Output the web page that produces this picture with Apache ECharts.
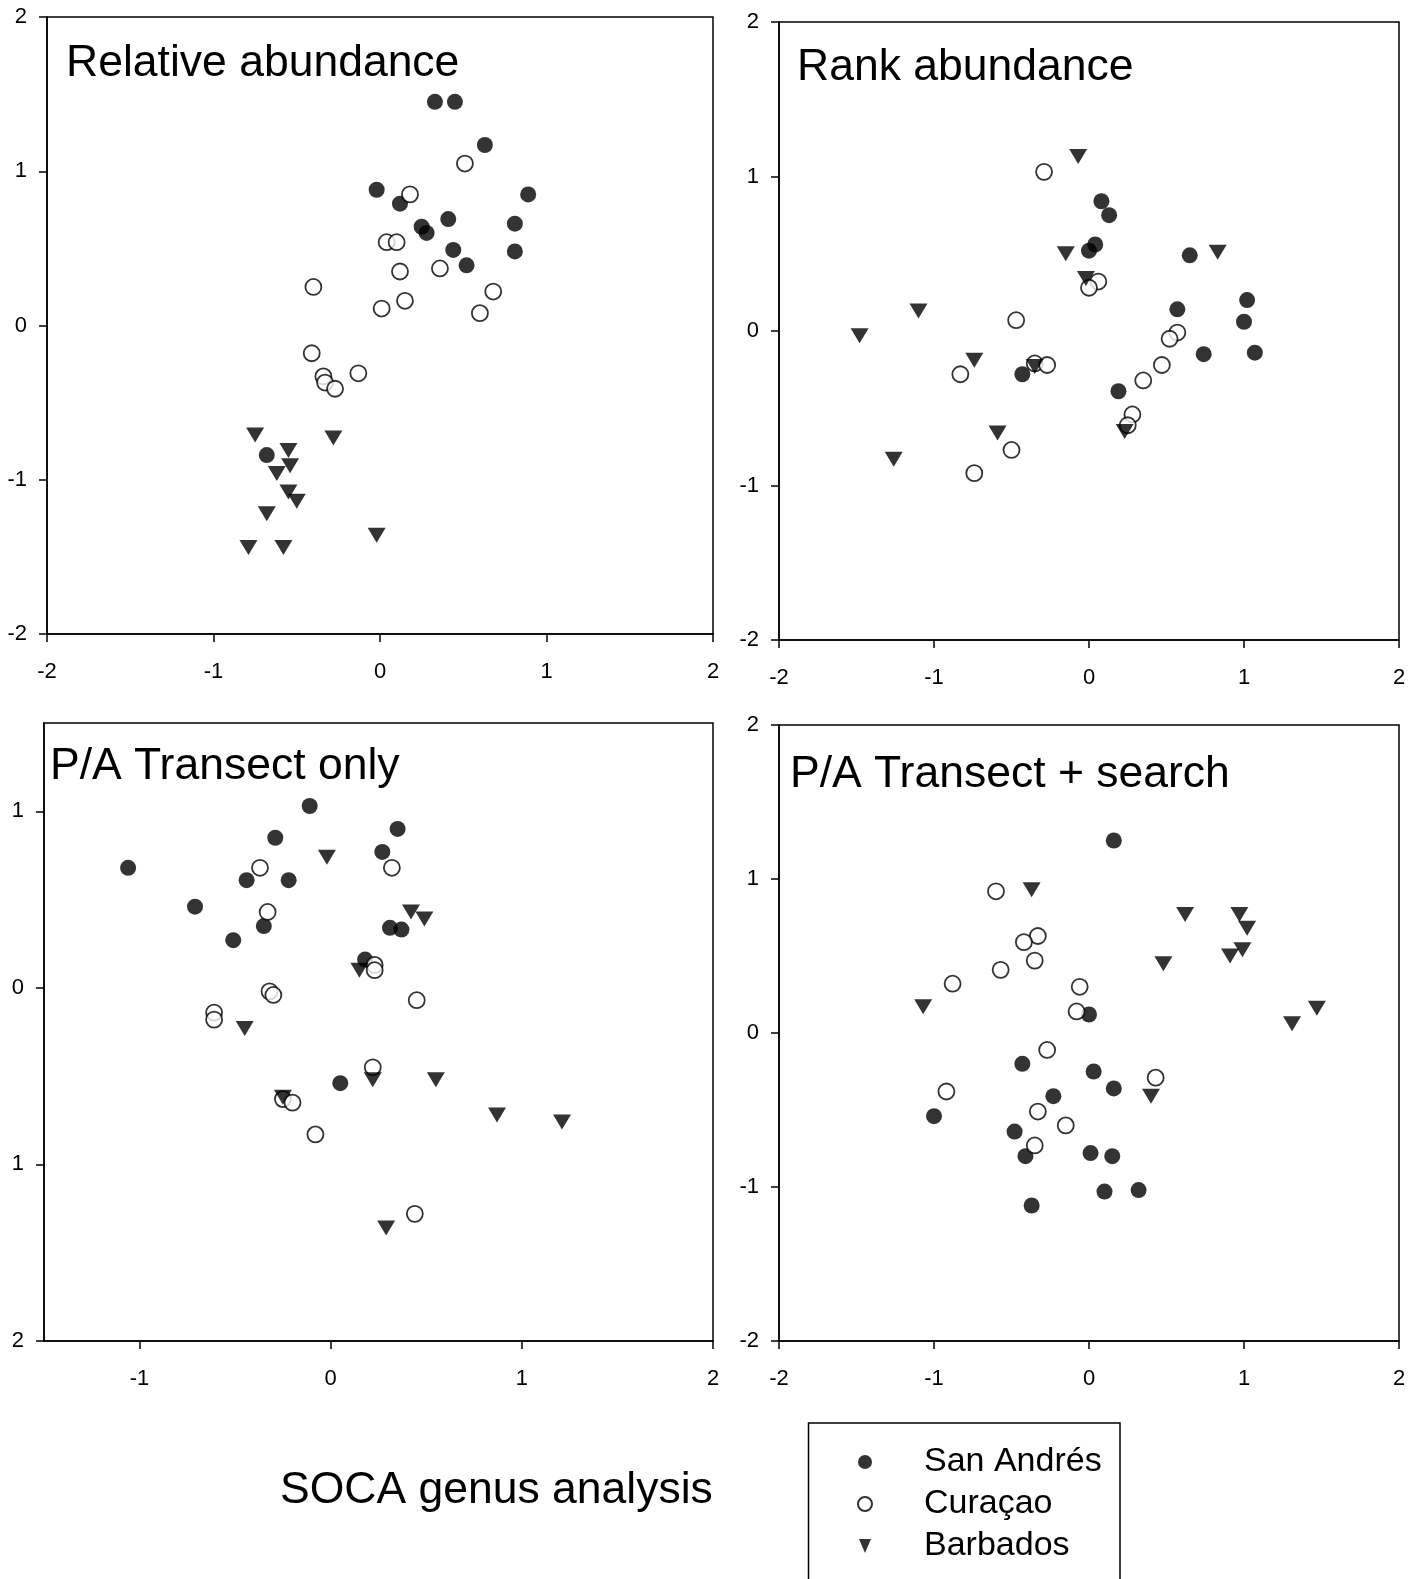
<!DOCTYPE html>
<html><head><meta charset="utf-8">
<script src="https://cdn.jsdelivr.net/npm/echarts@6/dist/echarts.min.js"></script>
<style>html,body{margin:0;padding:0;background:#fff}#c{width:1421px;height:1579px}</style>
</head><body><div id="c"></div>
<script>
// ---- data ----
const groupNames = ['San Andrés', 'Curaçao', 'Barbados'];
const panelTitles = ['Relative abundance', 'Rank abundance', 'P/A Transect only', 'P/A Transect + search'];
const chartTitle = 'SOCA genus analysis';

const relSanAndres = [[0.33,1.45],[0.45,1.45],[0.63,1.17],[-0.02,0.88],[0.12,0.79],[0.89,0.85],[0.25,0.64],[0.28,0.60],[0.41,0.69],[0.81,0.66],[0.44,0.49],[0.52,0.39],[0.81,0.48],[-0.68,-0.84]];
const relCuracao = [[0.51,1.05],[0.18,0.85],[0.04,0.54],[0.10,0.54],[0.12,0.35],[0.36,0.37],[0.15,0.16],[0.01,0.11],[0.68,0.22],[0.60,0.08],[-0.40,0.25],[-0.41,-0.18],[-0.34,-0.33],[-0.33,-0.37],[-0.27,-0.41],[-0.13,-0.31]];
const relBarbados = [[-0.75,-0.71],[-0.55,-0.81],[-0.54,-0.91],[-0.62,-0.96],[-0.28,-0.73],[-0.55,-1.08],[-0.50,-1.14],[-0.68,-1.22],[-0.79,-1.44],[-0.58,-1.44],[-0.02,-1.36]];

const rankSanAndres = [[0.08,0.84],[0.13,0.75],[0.04,0.56],[0.00,0.52],[0.65,0.49],[0.57,0.14],[1.02,0.20],[1.00,0.06],[0.74,-0.15],[1.07,-0.14],[0.19,-0.39],[-0.43,-0.28]];
const rankCuracao = [[-0.29,1.03],[0.06,0.32],[0.00,0.28],[-0.47,0.07],[0.57,-0.01],[0.52,-0.05],[0.47,-0.22],[0.35,-0.32],[0.28,-0.54],[0.25,-0.61],[-0.83,-0.28],[-0.35,-0.21],[-0.27,-0.22],[-0.50,-0.77],[-0.74,-0.92]];
const rankBarbados = [[-0.07,1.13],[-0.15,0.50],[0.83,0.51],[-0.02,0.34],[-1.48,-0.03],[-1.10,0.13],[-0.74,-0.19],[-0.35,-0.23],[-0.59,-0.66],[-1.26,-0.83],[0.23,-0.65]];

const paSanAndres = [[-1.06,0.68],[-0.71,0.46],[-0.44,0.61],[-0.51,0.27],[-0.29,0.85],[-0.22,0.61],[-0.35,0.35],[-0.11,1.03],[0.27,0.77],[0.35,0.90],[0.31,0.34],[0.37,0.33],[0.18,0.16],[0.05,-0.54]];
const paCuracao = [[-0.37,0.68],[-0.33,0.43],[0.32,0.68],[0.23,0.13],[0.23,0.10],[-0.32,-0.02],[-0.30,-0.04],[0.45,-0.07],[-0.61,-0.14],[-0.61,-0.18],[0.22,-0.45],[-0.25,-0.63],[-0.20,-0.65],[-0.08,-0.83],[0.44,-1.28]];
const paBarbados = [[-0.02,0.74],[0.42,0.43],[0.49,0.39],[0.15,0.10],[-0.45,-0.23],[-0.25,-0.62],[0.22,-0.52],[0.55,-0.52],[0.87,-0.72],[1.21,-0.76],[0.29,-1.36]];

const pasSanAndres = [[0.16,1.25],[0.00,0.12],[-0.43,-0.20],[0.03,-0.25],[0.16,-0.36],[-0.23,-0.41],[-1.00,-0.54],[-0.48,-0.64],[-0.41,-0.80],[0.01,-0.78],[0.15,-0.80],[0.10,-1.03],[0.32,-1.02],[-0.37,-1.12]];
const pasCuracao = [[-0.60,0.92],[-0.33,0.63],[-0.42,0.59],[-0.35,0.47],[-0.57,0.41],[-0.88,0.32],[-0.06,0.30],[-0.08,0.14],[-0.27,-0.11],[0.43,-0.29],[-0.92,-0.38],[-0.33,-0.51],[-0.15,-0.60],[-0.35,-0.73]];
const pasBarbados = [[-0.37,0.93],[0.62,0.77],[0.97,0.77],[1.02,0.68],[0.99,0.54],[0.91,0.50],[0.48,0.45],[-1.07,0.17],[1.31,0.06],[1.47,0.16],[0.40,-0.41]];

// axis ticks
const paXTicks = [-1, 0, 1, 2];
const paYTicks = [-2, -1, 0, 1];
const paYTickLabels = ['2', '1', '0', '1'];

// ---- build ----
const FONT = '"Liberation Sans", Arial, Helvetica, sans-serif';
const panels = [
  [relSanAndres, relCuracao, relBarbados],
  [rankSanAndres, rankCuracao, rankBarbados],
  [paSanAndres, paCuracao, paBarbados],
  [pasSanAndres, pasCuracao, pasBarbados]
];
const grids = [
  {left: 47, top: 17, width: 666, height: 617},
  {left: 779, top: 22, width: 620, height: 618},
  {left: 44, top: 723, width: 669, height: 618},
  {left: 779, top: 725, width: 620, height: 616}
].map(g => Object.assign(g, {show: true, borderColor: '#000', borderWidth: 1.5, backgroundColor: 'transparent'}));

const lineStyle = {color: '#000', width: 1.5};
function makeAxis(dim, i, min, max, custom, formatter) {
  const ax = {
    type: 'value', gridIndex: i, min: min, max: max,
    axisLine: {show: true, onZero: false, lineStyle: lineStyle},
    axisTick: {show: true, inside: false, length: 8, lineStyle: lineStyle},
    axisLabel: {show: true, color: '#000', fontSize: 22, fontFamily: FONT, margin: dim === 'x' ? 27 : 20},
    splitLine: {show: false}
  };
  if (custom) {
    ax.axisLabel.customValues = custom;
    ax.axisTick.customValues = custom;
  } else {
    ax.interval = 1;
  }
  if (formatter) ax.axisLabel.formatter = formatter;
  return ax;
}
const xAxes = [
  makeAxis('x', 0, -2, 2),
  makeAxis('x', 1, -2, 2),
  makeAxis('x', 2, -1.5, 2, paXTicks),
  makeAxis('x', 3, -2, 2)
];
const yAxes = [
  makeAxis('y', 0, -2, 2),
  makeAxis('y', 1, -2, 2),
  makeAxis('y', 2, -2, 1.5, paYTicks, v => { const k = paYTicks.indexOf(Math.round(v)); return k >= 0 ? paYTickLabels[k] : ''; }),
  makeAxis('y', 3, -2, 2)
];

const styles = [
  {symbol: 'circle', symbolSize: 16, itemStyle: {color: '#000'}},
  {symbol: 'circle', symbolSize: 16, itemStyle: {color: '#fff', borderColor: '#000', borderWidth: 1.8}},
  {symbol: 'triangle', symbolSize: [18, 15], symbolRotate: 180, itemStyle: {color: '#000'}}
];
const series = [];
panels.forEach((sets, i) => {
  sets.forEach((data, j) => {
    series.push(Object.assign({
      type: 'scatter', name: groupNames[j], xAxisIndex: i, yAxisIndex: i,
      data: data, emphasis: {disabled: true}, silent: true
    }, JSON.parse(JSON.stringify(styles[j]))));
  });
});

const titlePos = [[66, 63.5], [797, 67.5], [50, 767], [790, 775]];
const graphic = panelTitles.map((t, i) => ({
  type: 'text', x: titlePos[i][0], y: titlePos[i][1], z: 10,
  style: {text: t, fill: '#000', fontSize: 44.5, fontFamily: FONT, align: 'left', verticalAlign: 'middle'}
}));
graphic.push({
  type: 'text', x: 280, y: 1491, z: 10,
  style: {text: chartTitle, fill: '#000', fontSize: 44.5, fontFamily: FONT, align: 'left', verticalAlign: 'middle'}
});
graphic.push({
  type: 'rect', z: 5, shape: {x: 808.5, y: 1423, width: 311.5, height: 200},
  style: {fill: 'none', stroke: '#000', lineWidth: 1.5}
});

const chart = echarts.init(document.getElementById('c'), null, {renderer: 'canvas'});
chart.setOption({
  animation: false,
  backgroundColor: '#fff',
  grid: grids,
  xAxis: xAxes,
  yAxis: yAxes,
  series: series,
  graphic: graphic,
  legend: {
    data: [
      {name: groupNames[0]},
      {name: groupNames[1]},
      {name: groupNames[2], icon: 'path://M0,0L12,0L6,14Z'}
    ],
    orient: 'vertical', left: 857, top: 1441, padding: 0,
    itemGap: 0, itemWidth: 14, itemHeight: 14, selectedMode: false,
    textStyle: {fontSize: 34, lineHeight: 42, color: '#000', fontFamily: FONT, padding: [0, 0, 0, 47]}
  }
});
</script></body></html>
